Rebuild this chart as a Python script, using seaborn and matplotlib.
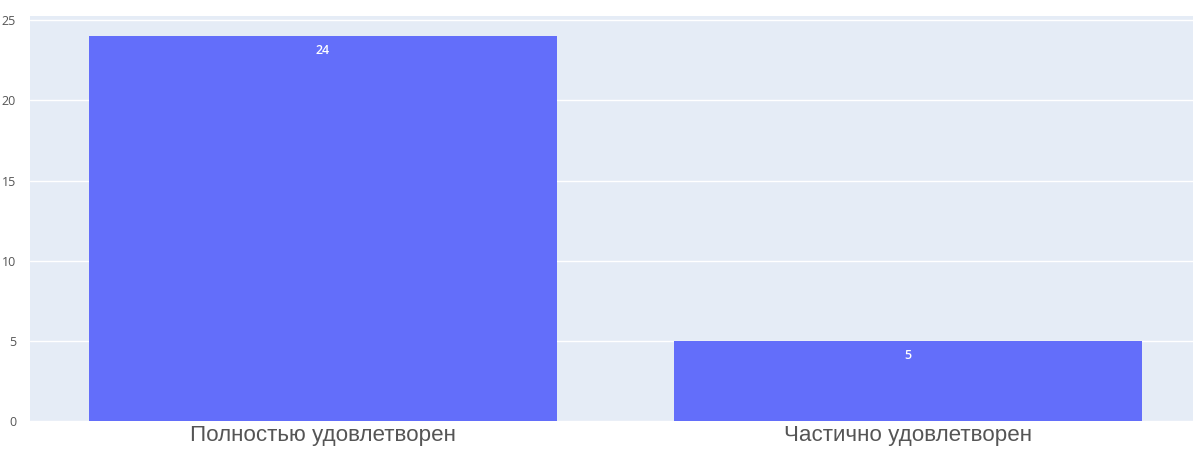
import matplotlib
matplotlib.use("Agg")
import matplotlib.pyplot as plt
import seaborn as sns
import pandas as pd

categories = ["Полностью удовлетворен", "Частично удовлетворен"]
values = [24, 5]
y_ticks = [0, 5, 10, 15, 20, 25]

df = pd.DataFrame({"cat": categories, "val": values})

sns.set_theme(style="darkgrid", rc={
    "axes.facecolor": "#e5ecf6",
    "grid.color": "white",
    "grid.linewidth": 1.0,
    "axes.edgecolor": "#e5ecf6",
})
plt.rcParams["font.family"] = ["Open Sans", "DejaVu Sans"]

fig = plt.figure(figsize=(11.93, 4.5), dpi=100)
ax = fig.add_axes([30 / 1193, 1 - 421 / 450, 1 - 30 / 1193, (421 - 16) / 450])

sns.barplot(data=df, x="cat", y="val", color="#636efa", saturation=1,
            width=0.8, ax=ax, edgecolor="none", linewidth=0)

ax.set_ylim(0, 25.263)
ax.set_xlim(-0.5, 1.5 - 8 / 586)
ax.set_yticks(y_ticks)
ax.set_yticklabels([str(t) for t in y_ticks], fontsize=9, color="#555555")
ax.tick_params(axis="y", pad=10, length=0)
ax.tick_params(axis="x", pad=3, length=0)
for lbl in ax.get_xticklabels():
    lbl.set_fontfamily(["Liberation Sans", "DejaVu Sans"])
    lbl.set_fontsize(16.1)
    lbl.set_color("#555555")
ax.grid(axis="x", visible=False)
ax.set_xlabel("")
ax.set_ylabel("")
for s in ax.spines.values():
    s.set_visible(False)

for container in ax.containers:
    ax.bar_label(container, labels=[str(v) for v in values], label_type="edge",
                 padding=-15, color="white", fontsize=9, fontweight="semibold")

fig.savefig("out.png", dpi=100)
